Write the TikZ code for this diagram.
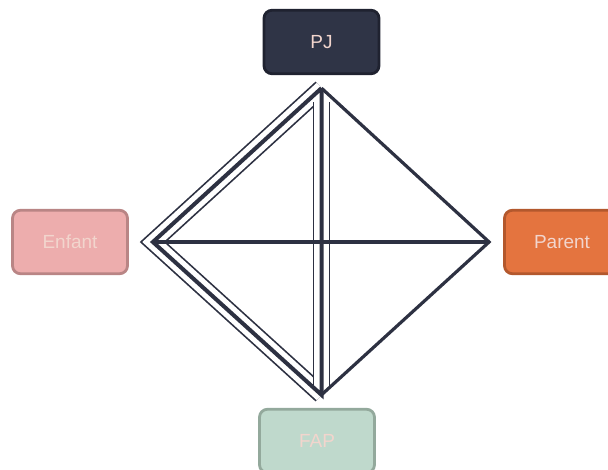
\documentclass[tikz,border=0pt]{standalone}
\usepackage{fontspec}
\setmainfont{Liberation Sans}
\usetikzlibrary{positioning,calc}
\definecolor{inkslate}{HTML}{2D3142}
\definecolor{pjfill}{HTML}{2F3446}
\definecolor{pjline}{HTML}{1F2230}
\definecolor{enfantfill}{HTML}{EDADAD}
\definecolor{enfantline}{HTML}{B98585}
\definecolor{parentfill}{HTML}{E4743F}
\definecolor{parentline}{HTML}{B3582D}
\definecolor{fapfill}{HTML}{BFD9CC}
\definecolor{fapline}{HTML}{93A99C}
\definecolor{labelpink}{HTML}{F2D5CD}

\begin{document}
\begin{tikzpicture}[x=1pt,y=-1pt,
 box/.style={draw,rounded corners=8pt,line width=2.8pt,minimum width=115pt,
 minimum height=63.5pt,inner sep=0pt,text=labelpink,
 font=\fontsize{19}{22}\selectfont},
 pjbox/.style={box,fill=pjfill,draw=pjline},
 enfantbox/.style={box,fill=enfantfill,draw=enfantline},
 parentbox/.style={box,fill=parentfill,draw=parentline},
 fapbox/.style={box,fill=fapfill,draw=fapline},
 dbl/.style={draw=inkslate,line width=1.7pt,double=white,double distance=14.3pt,
 line join=miter},
 dblgap/.style={draw=white,line width=14.3pt},
 thk/.style={draw=inkslate,line width=4pt,line join=miter},
 sgl/.style={draw=inkslate,line width=3.2pt,line join=miter}]
\useasboundingbox (0,0) rectangle (608,470);
\node[pjbox] (pj) at (321.5,42) {PJ};
\node[enfantbox] (enfant) at (70,242) {Enfant};
\node[parentbox] (parent) at (562,242) {Parent};
\node[fapbox] (fap) at (317,441) {FAP};
% meeting points of the links
\coordinate (pjs) at ($(pj.south)+(0,13)$);
\coordinate (enfe) at ($(enfant.east)+(24,0)$);
\coordinate (parw) at ($(parent.west)+(-14,0)$);
\coordinate (fapn) at ($(fap.north)+(4.5,-13)$);
% double links
\draw[dbl] (pjs) -- (enfe) -- (fapn);
\draw[dblgap] (pjs) -- (fapn);
\draw[dbl,shorten <=14pt,shorten >=9pt] (pjs) -- (fapn);
\draw[thk] (pjs) -- (enfe) -- (fapn) -- (pjs);
% single links
\draw[sgl] (enfe) -- (parw);
\draw[sgl] (pjs) -- (parw) -- (fapn);
\end{tikzpicture}
\end{document}
